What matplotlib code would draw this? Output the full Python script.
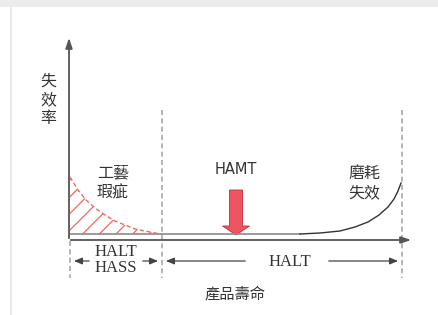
import matplotlib
matplotlib.use("Agg")
import matplotlib.pyplot as plt
from matplotlib.patches import FancyArrow, Rectangle
import numpy as np

# ---- data (diagram coordinates, pixel-like units: x = product life, y = failure rate, inverted) ----
early_x = [70, 78, 86, 95, 105, 115, 125, 135, 145, 155, 162]
early_y = [177, 190, 200, 208, 215, 221, 225, 229, 231, 233, 234]
flat_x = [70, 300]
flat_y = [234, 234]
wear_x = [300, 320, 340, 355, 368, 379, 388, 394, 398, 401]
wear_y = [234, 233, 231, 227, 222, 215, 207, 199, 191, 183]
boundaries = [162, 402]

label_yaxis = "失\n效\n率"
label_xaxis = "產品壽命"
label_early = "工藝\n瑕疵"
label_wear = "磨耗\n失效"
label_hamt = "HAMT"
label_halt_hass = "HALT\nHASS"
label_halt = "HALT"

cjk = ["Noto Sans CJK TC", "DejaVu Sans"]
serif = ["Liberation Serif", "DejaVu Serif"]

fig = plt.figure(figsize=(4.39, 3.15), dpi=100)
ax = fig.add_axes([0, 0, 1, 1])
ax.set_xlim(0, 439)
ax.set_ylim(315, 0)
ax.axis("off")

# frame decorations
ax.add_patch(Rectangle((0, 0), 439, 7, color="#ececec", lw=0, zorder=0))
ax.plot([11, 11], [8, 315], color="#e6e6e6", lw=1.2, zorder=0)

axc = "#555555"
# y axis
ax.annotate("", xy=(69, 35), xytext=(69, 241),
            arrowprops=dict(arrowstyle="-|>,head_length=0.6,head_width=0.2", color=axc, lw=1.3))
# x axis
ax.annotate("", xy=(414, 240), xytext=(68, 240),
            arrowprops=dict(arrowstyle="-|>,head_length=0.6,head_width=0.2", color=axc, lw=1.3))

# dashed boundaries
for bx in boundaries:
    ax.plot([bx, bx], [110, 278], color="#a8a8a8", lw=1.2, ls=(0, (3, 2)))
ax.plot([70, 70], [241, 278], color="#a8a8a8", lw=1.2, ls=(0, (3, 2)))

# early failure hatch + dashed curve
plt.rcParams["hatch.color"] = "#f26a5a"
plt.rcParams["hatch.linewidth"] = 0.9
ax.fill_between(early_x, early_y, 234, facecolor="none", edgecolor="#f26a5a", hatch="//", lw=0)
ax.plot(early_x, early_y, color="#f26a5a", lw=1.0, ls=(0, (3, 2)))

# flat and wear-out
ax.plot(flat_x, flat_y, color="#8a8a8a", lw=1.2)
ax.plot(wear_x, wear_y, color="#333333", lw=1.0)

# HAMT arrow
ax.add_patch(FancyArrow(236, 190, 0, 45, width=13, head_width=27, head_length=9,
                        length_includes_head=True, facecolor="#ef5560", edgecolor="#c0303a", lw=0.6))

# texts
ax.text(48, 100, label_yaxis, family=cjk, fontsize=11.5, ha="center", va="center",
        color="#333333", linespacing=1.15)
ax.text(113, 183, label_early, family=cjk, fontsize=11.5, ha="center", va="center",
        color="#333333", linespacing=1.2)
ax.text(364, 183, label_wear, family=cjk, fontsize=11.5, ha="center", va="center",
        color="#333333", linespacing=1.2)
ax.text(236, 170, label_hamt, family=["DejaVu Sans"], fontsize=10.5, ha="center", va="center",
        color="#333333")
ax.text(116, 260, label_halt_hass, family=serif, fontsize=12, ha="center", va="center",
        color="#333333", linespacing=1.05)
ax.text(290, 262, label_halt, family=serif, fontsize=12, ha="center", va="center",
        color="#333333")
ax.text(235, 294, label_xaxis, family=cjk, fontsize=11, ha="center", va="center",
        color="#333333")

# dimension arrows
dc = "#444444"
astyle = dict(arrowstyle="-|>,head_length=0.5,head_width=0.2", color=dc, lw=0.9)
ax.annotate("", xy=(71, 261), xytext=(92, 261), arrowprops=astyle)
ax.annotate("", xy=(161, 261), xytext=(140, 261), arrowprops=astyle)
ax.annotate("", xy=(163, 261), xytext=(248, 261), arrowprops=astyle)
ax.annotate("", xy=(401, 261), xytext=(326, 261), arrowprops=astyle)

fig.savefig("out.png", dpi=100, facecolor="white")
